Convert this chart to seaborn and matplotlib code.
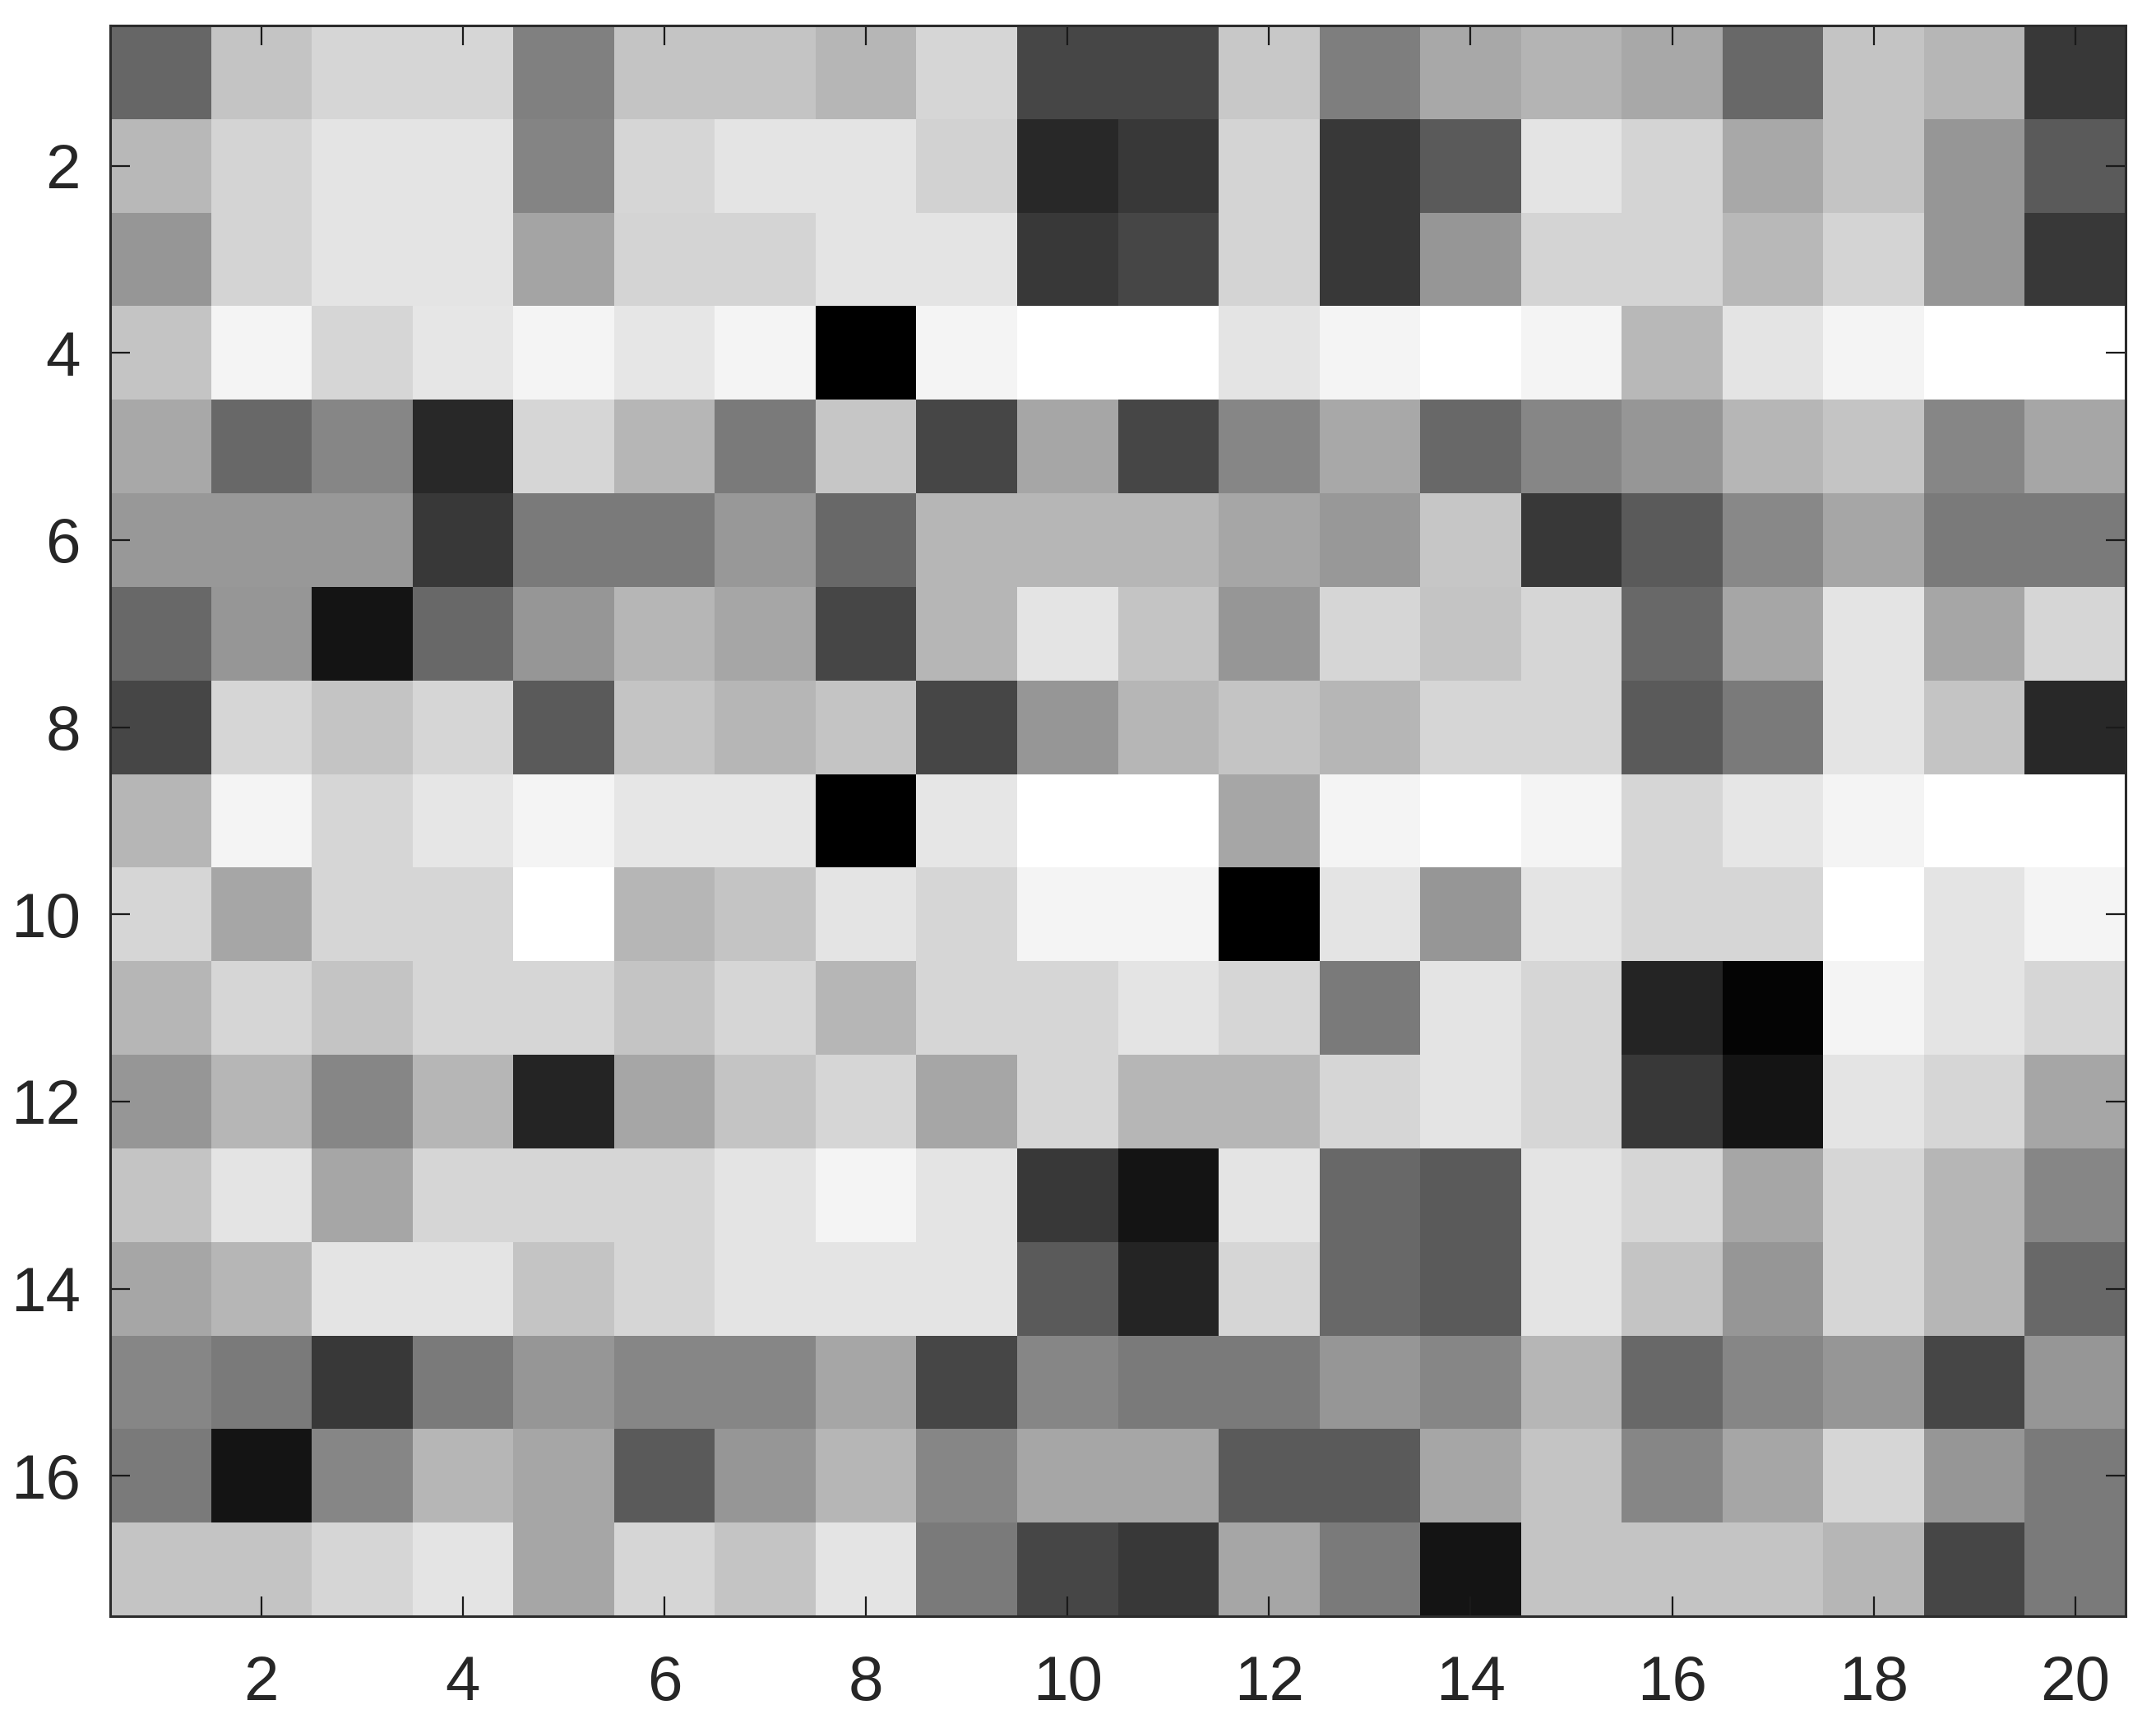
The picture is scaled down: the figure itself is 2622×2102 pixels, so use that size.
import numpy as np
import pandas as pd
import matplotlib
matplotlib.use("Agg")
import matplotlib.pyplot as plt
import seaborn as sns

# Gray-level intensities (0 = black, 255 = white), one list per row (top to bottom)
row_01 = [102, 196, 214, 214, 128, 196, 196, 182, 214, 70, 70, 200, 126, 168, 180, 168, 104, 196, 182, 56]
row_02 = [184, 212, 228, 228, 132, 214, 228, 228, 210, 40, 56, 212, 56, 90, 228, 212, 168, 196, 150, 90]
row_03 = [150, 212, 228, 228, 164, 212, 212, 228, 228, 56, 70, 212, 56, 150, 212, 212, 184, 212, 150, 56]
row_04 = [196, 244, 214, 230, 244, 230, 244, 0, 244, 255, 255, 228, 244, 255, 244, 184, 228, 244, 255, 255]
row_05 = [168, 104, 134, 40, 214, 182, 122, 198, 70, 166, 70, 134, 168, 104, 134, 150, 182, 196, 134, 166]
row_06 = [152, 152, 152, 56, 122, 122, 152, 104, 182, 182, 182, 166, 152, 198, 56, 90, 136, 166, 122, 122]
row_07 = [104, 150, 20, 104, 150, 182, 166, 70, 182, 228, 196, 150, 214, 196, 214, 104, 166, 228, 166, 214]
row_08 = [70, 214, 196, 214, 90, 196, 182, 196, 70, 150, 182, 196, 182, 214, 214, 90, 122, 228, 196, 40]
row_09 = [182, 244, 214, 230, 244, 230, 230, 0, 230, 255, 255, 166, 244, 255, 244, 214, 230, 244, 255, 255]
row_10 = [214, 166, 214, 214, 255, 182, 196, 228, 214, 244, 244, 0, 228, 150, 228, 214, 214, 255, 228, 244]
row_11 = [182, 214, 196, 214, 214, 196, 214, 182, 214, 214, 228, 214, 122, 228, 214, 36, 4, 244, 228, 214]
row_12 = [150, 182, 134, 182, 36, 166, 196, 214, 166, 214, 182, 182, 214, 228, 214, 56, 20, 228, 214, 166]
row_13 = [196, 228, 166, 214, 214, 214, 228, 244, 228, 56, 20, 228, 104, 90, 228, 214, 166, 214, 182, 134]
row_14 = [166, 182, 228, 228, 196, 214, 228, 228, 228, 90, 36, 214, 104, 90, 228, 196, 150, 214, 182, 104]
row_15 = [134, 122, 56, 122, 150, 134, 134, 166, 70, 134, 122, 122, 150, 134, 182, 104, 134, 150, 70, 150]
row_16 = [122, 20, 134, 182, 166, 90, 150, 182, 134, 166, 166, 90, 90, 166, 196, 134, 166, 214, 150, 122]
row_17 = [196, 196, 214, 228, 166, 214, 196, 228, 122, 70, 56, 166, 122, 20, 196, 196, 196, 182, 70, 122]

x_tick_labels = ["2", "4", "6", "8", "10", "12", "14", "16", "18", "20"]
y_tick_labels = ["2", "4", "6", "8", "10", "12", "14", "16"]

rows = [row_01, row_02, row_03, row_04, row_05, row_06, row_07, row_08, row_09,
        row_10, row_11, row_12, row_13, row_14, row_15, row_16, row_17]
df = pd.DataFrame(rows, index=range(1, 18), columns=range(1, 21))

sns.set_style("white")
plt.rcParams['font.family'] = ['Liberation Sans', 'DejaVu Sans']

fig = plt.figure(figsize=(26.22, 21.02), dpi=100)
ax = fig.add_axes([0.0511, 0.0647, 0.9859 - 0.0511, 0.9853 - 0.0647])

sns.heatmap(df, ax=ax, cmap="gray", vmin=0, vmax=255, cbar=False,
            xticklabels=False, yticklabels=False, linewidths=0)

ax.set_xticks([int(t) - 0.5 for t in x_tick_labels])
ax.set_xticklabels(x_tick_labels)
ax.set_yticks([int(t) - 0.5 for t in y_tick_labels])
ax.set_yticklabels(y_tick_labels, rotation=0)
ax.set_xlabel("")
ax.set_ylabel("")
ax.set_axisbelow(False)

for s in ax.spines.values():
    s.set_visible(True)
    s.set_color("#2b2b2b")
    s.set_linewidth(2.2)
    s.set_zorder(5)

ax.tick_params(axis="both", which="both", direction="in", length=17, width=1.6,
               color="#1a1a1a", top=True, right=True, bottom=True, left=True,
               labeltop=False, labelright=False, labelsize=55, labelcolor="#262626")
ax.tick_params(axis="x", pad=34)
ax.tick_params(axis="y", pad=26)

fig.savefig("out.png", dpi=100)
